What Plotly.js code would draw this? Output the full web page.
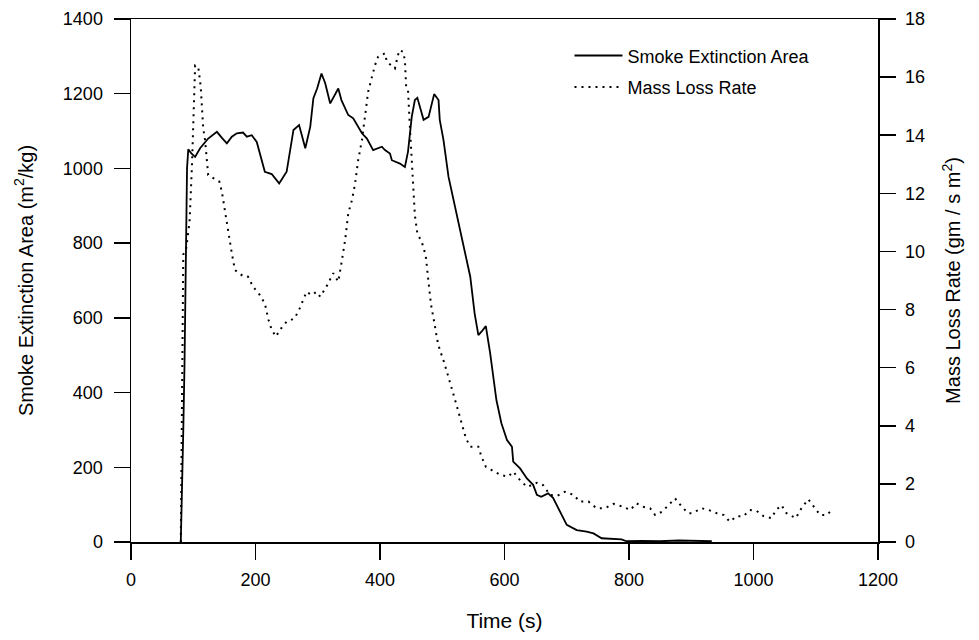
<!DOCTYPE html>
<html>
<head>
<meta charset="utf-8">
<script src="https://cdn.plot.ly/plotly-3.0.1.min.js"></script>
<style>html,body{margin:0;padding:0;background:#fff;}#chart{width:979px;height:640px;}</style>
</head>
<body>
<div id="chart"></div>
<script>
// Smoke Extinction Area (left axis)
const timeSmoke = [80, 82, 84, 86, 88, 90, 92, 97, 103, 111, 124, 138, 146, 154, 162, 170, 180, 186, 194, 202, 215, 226, 238, 250, 261, 270, 280, 288, 293, 299, 306, 312, 320, 325, 333, 338, 349, 357, 371, 379, 389, 403, 408, 416, 419, 432, 440, 445, 451, 456, 460, 470, 478, 487, 494, 496, 502, 510, 518, 528, 537, 545, 552, 558, 563, 570, 577, 582, 587, 595, 604, 612, 614, 625, 636, 646, 652, 659, 670, 678, 689, 700, 716, 732, 743, 756, 788, 796, 820, 850, 880, 910, 933];
const smokeArea = [0, 120, 300, 480, 810, 1000, 1051, 1040, 1031, 1054, 1080, 1098, 1082, 1067, 1085, 1094, 1096, 1085, 1089, 1071, 991, 985, 960, 991, 1103, 1116, 1054, 1112, 1188, 1214, 1254, 1228, 1174, 1188, 1214, 1183, 1143, 1134, 1094, 1080, 1049, 1058, 1049, 1040, 1022, 1013, 1004, 1045, 1138, 1183, 1189, 1130, 1138, 1199, 1183, 1130, 1076, 978, 915, 844, 773, 710, 612, 554, 563, 578, 505, 434, 380, 318, 273, 255, 215, 197, 170, 153, 126, 121, 130, 118, 81, 46, 32, 28, 23, 10, 7, 2, 3, 2, 4, 2, 2];

// Mass Loss Rate (right axis)
const timeMass = [80, 82, 84, 88, 94, 98, 103, 108, 112, 116, 119, 124, 138, 142, 146, 149, 152, 156, 162, 167, 180, 188, 196, 207, 215, 221, 226, 233, 239, 250, 263, 271, 277, 282, 290, 298, 304, 314, 325, 333, 338, 344, 349, 355, 360, 365, 371, 376, 381, 387, 392, 397, 408, 411, 421, 424, 427, 431, 437, 440, 442, 445, 448, 451, 454, 456, 460, 467, 471, 474, 477, 480, 482, 487, 492, 496, 501, 509, 514, 518, 522, 526, 530, 534, 538, 545, 558, 563, 570, 579, 593, 606, 614, 625, 636, 643, 652, 662, 673, 684, 697, 711, 721, 735, 748, 761, 775, 791, 802, 812, 823, 834, 842, 853, 863, 874, 885, 895, 901, 917, 928, 941, 952, 962, 973, 984, 994, 1005, 1016, 1029, 1036, 1045, 1053, 1059, 1068, 1077, 1088, 1096, 1107, 1118, 1128];
const massLoss = [0, 5, 9.9, 10, 11, 13, 16.4, 16.36, 15.67, 14.24, 13.83, 12.63, 12.46, 12.4, 12.05, 11.66, 11.19, 10.62, 9.93, 9.36, 9.15, 9.13, 8.79, 8.5, 8.21, 7.64, 7.3, 7.07, 7.3, 7.58, 7.7, 8.04, 8.33, 8.61, 8.5, 8.61, 8.44, 8.79, 9.25, 8.96, 9.59, 10.39, 11.31, 11.77, 12.34, 13.15, 13.83, 14.64, 15.5, 16.0, 16.41, 16.7, 16.82, 16.53, 16.36, 16.3, 16.59, 16.93, 16.87, 16.59, 15.67, 15.55, 14.29, 13.15, 11.6, 11.25, 10.62, 10.33, 10.05, 9.76, 9.13, 8.5, 8.16, 7.58, 6.95, 6.61, 6.32, 5.75, 5.4, 5.12, 4.77, 4.48, 4.17, 3.85, 3.57, 3.28, 3.28, 2.94, 2.59, 2.48, 2.31, 2.25, 2.42, 2.13, 1.9, 1.95, 2.04, 1.96, 1.62, 1.58, 1.73, 1.62, 1.39, 1.39, 1.16, 1.16, 1.31, 1.21, 1.1, 1.33, 1.21, 1.16, 0.93, 1.04, 1.27, 1.5, 1.21, 0.99, 0.99, 1.16, 1.1, 0.99, 0.93, 0.7, 0.89, 0.89, 1.1, 1.07, 0.89, 0.82, 1.1, 1.27, 0.99, 0.93, 0.82, 1.16, 1.47, 1.24, 0.93, 0.93, 1.16];

const xTicks = [0, 200, 400, 600, 800, 1000, 1200];
const y1Ticks = [0, 200, 400, 600, 800, 1000, 1200, 1400];
const y2Ticks = [0, 2, 4, 6, 8, 10, 12, 14, 16, 18];

const FONT = 'Liberation Sans, Arial, sans-serif';

const traces = [
  {x: timeSmoke, y: smokeArea, type: 'scatter', mode: 'lines', name: 'Smoke Extinction Area',
   legendgroup: 'a', line: {color: '#000', width: 1.8}, xaxis: 'x', yaxis: 'y'},
  {x: timeMass, y: massLoss, type: 'scatter', mode: 'lines', name: 'Mass Loss Rate',
   legendgroup: 'b', line: {color: '#000', width: 2, dash: '2px,5px'}, xaxis: 'x', yaxis: 'y2'}
];

const axisCommon = {
  showline: true, linecolor: '#000', linewidth: 1.5, ticks: 'outside', ticklen: 16,
  tickwidth: 1.5, tickcolor: '#000', showgrid: false, zeroline: false,
  tickfont: {family: FONT, size: 18, color: '#000'}
};

const layout = {
  width: 979, height: 640,
  margin: {l: 131, r: 101, t: 19, b: 98},
  paper_bgcolor: '#fff', plot_bgcolor: '#fff',
  font: {family: FONT, color: '#000'},
  showlegend: true,
  legend: {x: 0.587, y: 0.965, xanchor: 'left', yanchor: 'top', bgcolor: 'rgba(0,0,0,0)',
    font: {family: FONT, size: 18, color: '#000'}, itemwidth: 48, tracegroupgap: 5,
    traceorder: 'grouped'},
  xaxis: Object.assign({}, axisCommon, {
    range: [0, 1200], tickvals: xTicks, ticktext: xTicks.map(String), mirror: true,
    ticklabelstandoff: 5,
    title: {text: 'Time (s)', font: {family: FONT, size: 21, color: '#000'}, standoff: 24}
  }),
  yaxis: Object.assign({}, axisCommon, {
    range: [0, 1400], tickvals: y1Ticks, ticktext: y1Ticks.map(String),
    ticklabelstandoff: 7,
    title: {text: 'Smoke Extinction Area (m<sup>2</sup>/kg)', font: {family: FONT, size: 20, color: '#000'}, standoff: 24}
  }),
  yaxis2: Object.assign({}, axisCommon, {
    range: [0, 18], tickvals: y2Ticks, ticktext: y2Ticks.map(String),
    overlaying: 'y', side: 'right', ticklabelstandoff: 6,
    title: {text: 'Mass Loss Rate (gm / s m<sup>2</sup>)', font: {family: FONT, size: 20, color: '#000'}, standoff: 22}
  })
};

Plotly.newPlot('chart', traces, layout, {displayModeBar: false, staticPlot: true});
</script>
</body>
</html>
